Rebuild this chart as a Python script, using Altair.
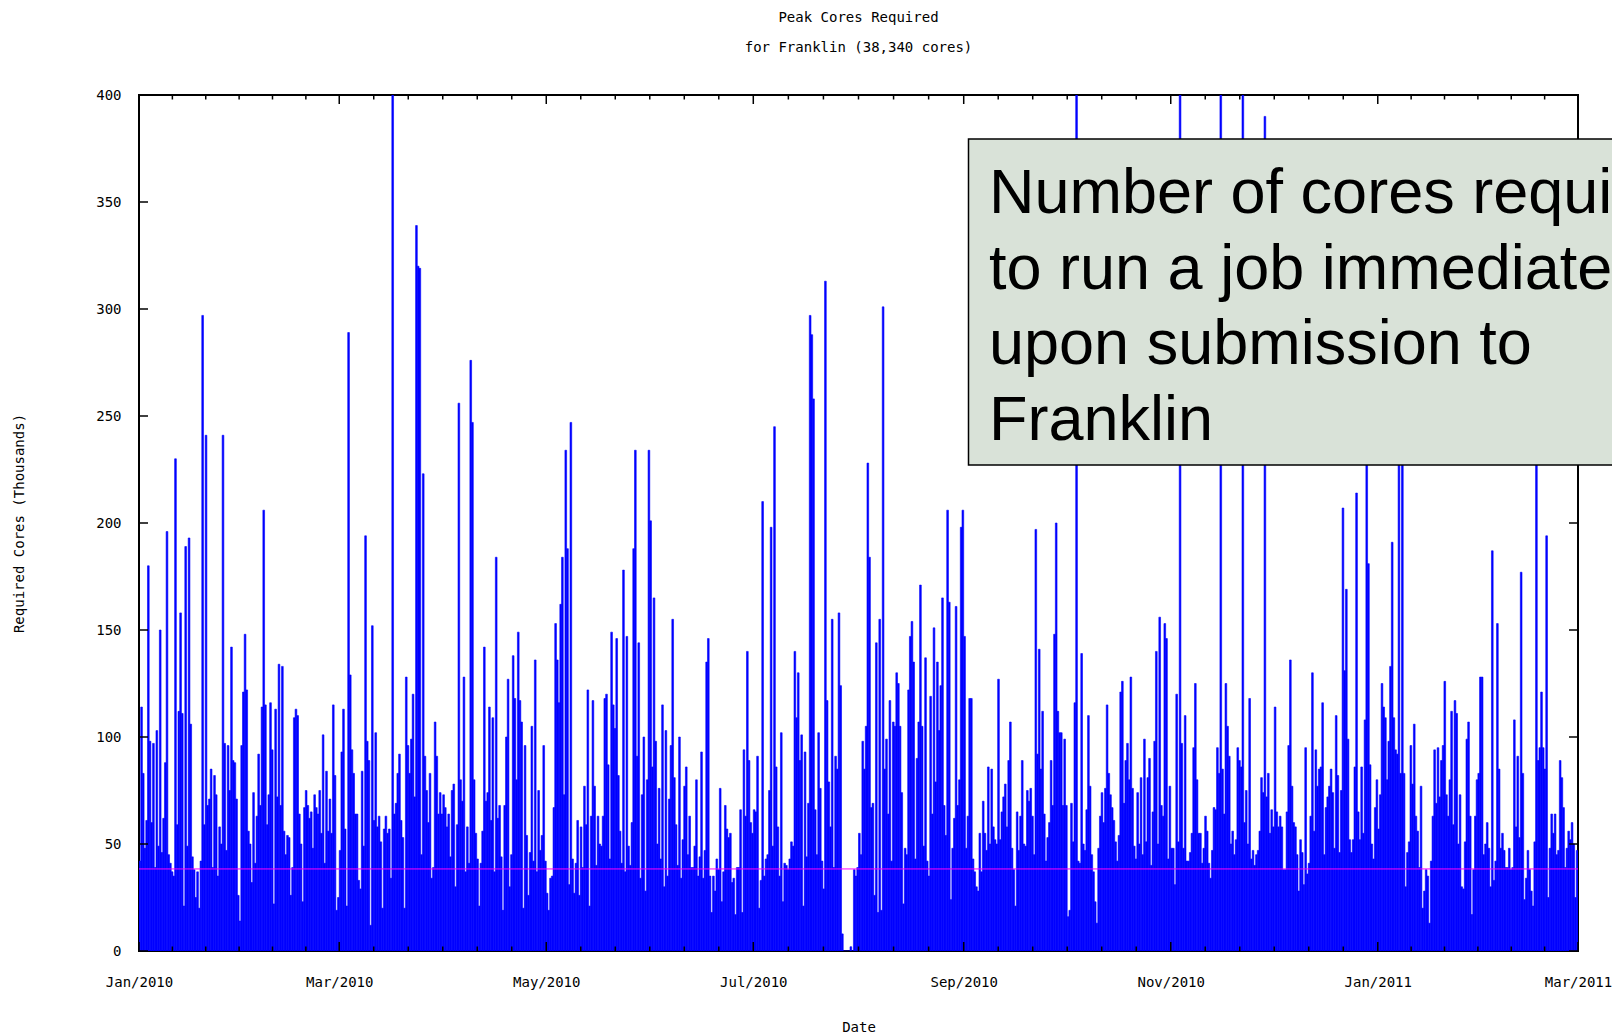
import altair as alt
import pandas as pd

# ---------------- text ----------------
title_lines = ["Peak Cores Required", "for Franklin (38,340 cores)"]
y_title = "Required Cores (Thousands)"
x_title = "Date"
note_lines = ["Number of cores required", "to run a job immediately",
              "upon submission to", "Franklin"]

# ---------------- axes ----------------
y_ticks = [0, 50, 100, 150, 200, 250, 300, 350, 400]
x_label_dates = ["2010-01-01", "2010-03-01", "2010-05-01", "2010-07-01",
                 "2010-09-01", "2010-11-01", "2011-01-01", "2011-03-01"]
capacity_k = [38.34]        # Franklin size, thousands of cores
series_start = "2010-01-01"
sample_step = "12h"

# ---------------- data: peak cores required (thousands), 12-hour samples ----------------
seg01 = [42,114,83,48,61,180,98,60,97,39,
         103,49,150,46,62,88,196,45,41,37,
         35,230,59,112,158,111,21,189,49,193,
         106,44,38,25,37,20,42,297,59,241,
         68,71,85,39,82,73,35,58,50,241,
         97,47,96,75,142,89,88,71,26,14,
         96,121,148,122,56,50,32,74,41,63,
         92,68,114,206,115,59,73,116,94,22,
         113,72,134]
seg02 = [68,133,56,45,54,53,26,39,109,113,
         110,64,50,23,67,75,68,62,65,48,
         73,67,64,75,55,101,41,84,56,71,
         55,115,82,19,25,47,93,113,57,21,
         289,129,94,83,64,64,33,29,84,49,
         194,98,89,12,152,61,102,58,63,51,
         20,57,63,55,57,34,400,64,69,83,
         92,61,53,20,128,96,83,99,120,72,
         339,320,319,45,223]
seg03 = [91,75,60,83,34,39,107,91,64,74,
         64,73,67,58,64,44,75,78,30,59,
         256,80,70,128,37,58,41,276,247,80,
         55,43,21,41,56,142,70,74,114,61,
         109,37,184,62,68,44,19,68,100,127,
         30,45,138,118,80,149,117,107,20,96,
         54,26,46,105,42,136,37,75,47,54,
         96,42,27,19,34,35,67,153,136,116,
         162,184,73,234,188]
seg04 = [31,247,43,27,41,61,26,58,39,77,
         59,122,21,63,117,77,40,63,50,49,
         63,118,120,87,43,149,115,104,146,82,
         56,41,178,37,147,49,40,60,188,234,
         91,144,34,73,100,28,80,234,201,86,
         165,98,50,76,43,115,30,103,35,71,
         96,155,81,59,40,100,34,52,77,86,
         45,63,39,39,49,80,35,44,93,34,
         47,135,146,35,18]
seg05 = [35,28,43,38,76,23,37,68,57,53,
         55,32,34,17,39,39,66,18,94,63,
         140,89,60,55,66,65,91,20,33,210,
         35,43,45,75,198,49,245,86,58,35,
         102,23,41,40,38,43,51,49,140,109,
         130,89,101,21,93,44,69,297,288,258,
         66,45,102,76,42,29,313,117,79,58,
         155,39,91,85,158,124,8,0,0,0,
         0,2,0,38,35]
seg06 = [39,55,45,98,85,105,228,184,67,69,
         26,144,18,155,19,301,85,99,64,117,
         42,107,105,130,125,105,74,22,48,45,
         122,147,154,135,43,90,107,171,105,49,
         137,42,35,119,64,151,79,135,103,124,
         165,68,54,206,163,24,48,62,161,68,
         80,198,206,147,48,63,118,118,43,37,
         30,28,55,37,70,55,47,86,50,85,
         58,52,50,127,52]
seg07 = [65,72,78,58,89,107,48,38,21,65,
         47,63,89,50,49,75,70,76,63,45,
         197,92,141,85,112,64,42,53,60,89,
         68,148,200,112,102,102,68,99,68,16,
         19,69,51,116,400,42,41,139,50,47,
         66,110,77,45,37,23,13,48,63,74,
         60,76,115,83,73,67,61,51,42,54,
         121,126,69,89,97,80,128,76,49,43,
         74,50,81,45,99]
seg08 = [51,81,90,40,65,98,140,50,156,68,
         63,153,146,43,77,48,48,31,120,51,
         400,97,48,110,42,42,46,55,95,125,
         80,55,55,41,48,63,56,41,34,47,
         67,66,95,83,400,85,64,125,105,91,
         50,56,45,52,95,89,86,400,60,75,
         50,118,43,47,40,45,47,56,81,74,
         390,72,83,55,66,58,114,65,58,63,
         58,38,38,65,96]
seg09 = [136,77,60,58,45,28,52,46,31,95,
         36,41,63,130,56,94,77,85,86,116,
         45,67,72,77,85,74,48,110,82,46,
         75,207,131,169,99,52,46,52,86,214,
         65,52,86,55,108,240,181,87,50,43,
         67,80,57,73,125,114,109,80,98,133,
         191,109,94,92,250,83,240,83,30,46,
         51,96,78,106,63,56,39,77,20,28,
         38,35,13,42,63]
seg10 = [94,69,95,72,89,96,126,73,63,80,
         112,59,117,111,50,73,30,29,51,99,
         107,63,17,38,63,80,83,128,128,45,
         50,60,48,30,187,33,42,153,85,48,
         55,47,39,39,48,38,39,108,58,91,
         53,177,83,24,34,47,38,28,21,51,
         229,89,95,121,95,85,194,25,48,64,
         55,64,45,47,89,81,67,39,48,56,
         52,60,50,25,47]

values = seg01 + seg02 + seg03 + seg04 + seg05 + seg06 + seg07 + seg08 + seg09 + seg10
times = pd.date_range(series_start, periods=len(values), freq=sample_step)
df = pd.DataFrame({"t": times, "t2": times + pd.Timedelta(sample_step), "v": values})

# ---------------- layout ----------------
W, H = 1439, 856
PAD_L, PAD_T = 139, 95
TOTAL_W, TOTAL_H = 1612, 1036
MONO = "DejaVu Sans Mono"
SANS = "Liberation Sans"

major = [pd.Timestamp(d) for d in x_label_dates]
minor = []
for a, b in zip(major[:-1], major[1:]):
    for i in range(1, 6):
        minor.append(a + (b - a) * i / 6)
major_df = pd.DataFrame({"t": major})
minor_df = pd.DataFrame({"t": minor})
ytick_df = pd.DataFrame({"v": y_ticks})
cap_df = pd.DataFrame({"v": capacity_k})
one = pd.DataFrame({"a": [0]})


def dt(ts):
    return alt.DateTime(year=ts.year, month=ts.month, date=ts.day)


xscale = alt.Scale(domain=[dt(major[0]), dt(major[-1])])
yscale = alt.Scale(domain=[0, 400], nice=False)

x_axis = alt.Axis(values=[dt(m) for m in major], format="%b/%Y", labelFlush=False,
                  labelOverlap=False, ticks=False, tickSize=0, domain=False, grid=False,
                  labelPadding=24, labelFont=MONO, labelFontSize=14, labelColor="black",
                  title=x_title, titleFont=MONO, titleFontSize=14, titleFontWeight="normal",
                  titleColor="black", titleX=W / 2, titleY=76, titleBaseline="middle",
                  titleAlign="center")
y_axis = alt.Axis(values=y_ticks, ticks=False, tickSize=0, domain=False, grid=False,
                  labelPadding=18, labelFont=MONO, labelFontSize=14, labelColor="black",
                  title=y_title, titleFont=MONO, titleFontSize=14, titleFontWeight="normal",
                  titleColor="black", titleX=-120, titleY=H / 2, titleAngle=270,
                  titleBaseline="middle", titleAlign="center")


def X():
    return alt.X("t:T", scale=xscale, axis=x_axis)


def Y():
    return alt.Y("v:Q", scale=yscale, axis=y_axis)


bars = alt.Chart(df).mark_rect(color="#0000ff", stroke="#0000ff", strokeWidth=0.6,
                               clip=True).encode(
    x=X(), x2="t2:T", y=Y(), y2=alt.datum(0),
)

cap_line = alt.Chart(cap_df).mark_rule(color="#ff00ff", strokeWidth=1).encode(y=Y())

tick_style = dict(color="black", strokeWidth=1.5)
bottom_major = alt.Chart(major_df).mark_rule(**tick_style).encode(
    x=X(), y=alt.value(H - 9), y2=alt.value(H))
bottom_minor = alt.Chart(minor_df).mark_rule(**tick_style).encode(
    x=X(), y=alt.value(H - 4.5), y2=alt.value(H))
top_major = alt.Chart(major_df).mark_rule(**tick_style).encode(
    x=X(), y=alt.value(0), y2=alt.value(9))
top_minor = alt.Chart(minor_df).mark_rule(**tick_style).encode(
    x=X(), y=alt.value(0), y2=alt.value(4.5))
left_ticks = alt.Chart(ytick_df).mark_rule(**tick_style).encode(
    y=Y(), x=alt.value(0), x2=alt.value(9))
right_ticks = alt.Chart(ytick_df).mark_rule(**tick_style).encode(
    y=Y(), x=alt.value(W - 9), x2=alt.value(W))

note_box = alt.Chart(one).mark_rect(fill="#d9e2d8", stroke="black", strokeWidth=1.5).encode(
    x=alt.value(829.5), x2=alt.value(1490), y=alt.value(44), y2=alt.value(370))
note_text = alt.Chart(one).mark_text(
    text=note_lines, lineHeight=75.5, align="left", baseline="alphabetic",
    fontSize=63, font=SANS, color="black").encode(x=alt.value(850), y=alt.value(118))

chart = alt.layer(
    bars, bottom_major, bottom_minor, cap_line, top_major, top_minor,
    left_ticks, right_ticks, note_box, note_text
).properties(
    width=W, height=H,
    title=alt.TitleParams(text=title_lines, font=MONO, fontSize=14, fontWeight="normal",
                          color="black", lineHeight=30, anchor="middle", offset=33),
    autosize=alt.AutoSizeParams(type="none"),
    padding={"left": PAD_L, "top": PAD_T, "right": TOTAL_W - PAD_L - W,
             "bottom": TOTAL_H - PAD_T - H},
).configure_view(stroke="black", strokeWidth=2)

chart.save("out.html", embed_options={"renderer": "svg", "actions": False})
